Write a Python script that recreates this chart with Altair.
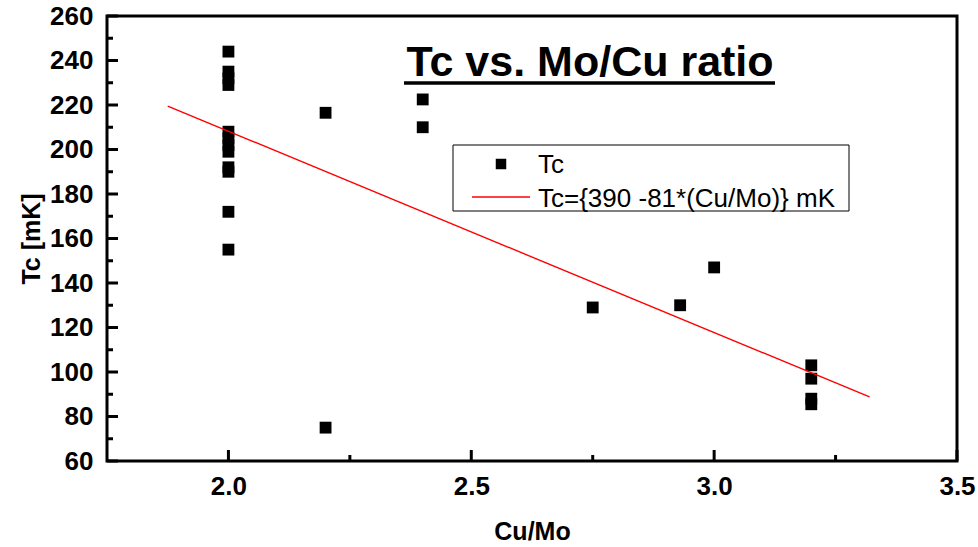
import altair as alt
import pandas as pd

# measured points
cu_mo = [2.0]*12 + [2.2, 2.2, 2.4, 2.4, 2.75, 2.93, 3.0, 3.2, 3.2, 3.2, 3.2]
tc = [244, 235, 232, 229, 208, 205, 202, 199, 192, 190, 172, 155,
      216.5, 75, 222.5, 210, 129, 130, 147, 103, 97, 88, 85.5]

# fitted line end points
fit_x = [1.875, 3.32]
fit_y = [219.5, 88.8]

y_ticks_major = list(range(60, 261, 20))
y_ticks_minor = list(range(70, 251, 20))
x_ticks_major = [2.0, 2.5, 3.0, 3.5]
x_ticks_minor = [2.25, 2.75, 3.25]

title_text = "Tc vs. Mo/Cu ratio"
legend_labels = ["Tc", "Tc={390 -81*(Cu/Mo)} mK"]

FONT = "Liberation Sans"
W, H = 850, 445

xs = alt.Scale(domain=[1.75, 3.5], nice=False, zero=False)
ys = alt.Scale(domain=[60, 260], nice=False, zero=False)

ax_x = alt.Axis(
    title="Cu/Mo", values=x_ticks_major, format=".1f", grid=False,
    domain=False, ticks=False, labelPadding=12, labelFontSize=26,
    labelFontWeight="bold", labelFont=FONT, labelColor="black",
    titleFont=FONT, titleFontSize=25, titleFontWeight="bold",
    titleColor="black", titlePadding=20, labelFlush=False)
ax_y = alt.Axis(
    title="Tc [mK]", values=y_ticks_major, grid=False, domain=False,
    ticks=False, labelPadding=14, labelFontSize=26, labelFontWeight="bold",
    labelFont=FONT, labelColor="black", titleFont=FONT, titleFontSize=25,
    titleFontWeight="bold", titleColor="black", titlePadding=5,
    labelFlush=False)

pts = pd.DataFrame({"x": cu_mo, "y": tc})
fit = pd.DataFrame({"x": fit_x, "y": fit_y})

points = alt.Chart(pts).mark_point(shape="square", filled=True, size=140,
                                   color="black", opacity=1).encode(
    x=alt.X("x:Q", scale=xs, axis=ax_x),
    y=alt.Y("y:Q", scale=ys, axis=ax_y),
)

line = alt.Chart(fit).mark_line(color="#ff0000", strokeWidth=1.4).encode(
    x=alt.X("x:Q", scale=xs, axis=ax_x),
    y=alt.Y("y:Q", scale=ys, axis=ax_y),
)

def yticks(vals, length):
    return alt.Chart(pd.DataFrame({"y": vals})).mark_rule(
        color="black", strokeWidth=3).encode(
        y=alt.Y("y:Q", scale=ys, axis=ax_y),
        x=alt.value(0), x2=alt.value(length))

def xticks(vals, length):
    return alt.Chart(pd.DataFrame({"x": vals})).mark_rule(
        color="black", strokeWidth=3).encode(
        x=alt.X("x:Q", scale=xs, axis=ax_x),
        y=alt.value(H), y2=alt.value(H - length))

one = pd.DataFrame({"k": [0]})

title = alt.Chart(one).mark_text(font=FONT, fontSize=43, fontWeight="bold",
                                 align="center", baseline="alphabetic",
                                 color="black").encode(
    x=alt.value(483), y=alt.value(60), text=alt.value(title_text))
underline = alt.Chart(one).mark_rule(color="black", strokeWidth=3.5).encode(
    x=alt.value(297), x2=alt.value(668), y=alt.value(67))

leg_box = alt.Chart(one).mark_rect(fill="white", stroke="black",
                                   strokeWidth=1).encode(
    x=alt.value(346), x2=alt.value(742), y=alt.value(129), y2=alt.value(195))
leg_sq = alt.Chart(one).mark_point(shape="square", filled=True, size=110,
                                   color="black", opacity=1).encode(
    x=alt.value(394), y=alt.value(148))
leg_line = alt.Chart(one).mark_rule(color="#ff0000", strokeWidth=1.4).encode(
    x=alt.value(365), x2=alt.value(423), y=alt.value(181))
leg_t1 = alt.Chart(one).mark_text(font=FONT, fontSize=26, align="left",
                                  baseline="alphabetic", color="black").encode(
    x=alt.value(431), y=alt.value(157), text=alt.value(legend_labels[0]))
leg_t2 = alt.Chart(one).mark_text(font=FONT, fontSize=26, align="left",
                                  baseline="alphabetic", color="black").encode(
    x=alt.value(431), y=alt.value(191), text=alt.value(legend_labels[1]))

chart = alt.layer(
    points, line,
    yticks(y_ticks_major, 11), yticks(y_ticks_minor, 6),
    xticks(x_ticks_major, 11), xticks(x_ticks_minor, 6),
    title, underline, leg_box, leg_sq, leg_line, leg_t1, leg_t2,
).properties(
    width=W, height=H,
    padding={"left": 107, "top": 16, "right": 21, "bottom": 86},
    autosize=alt.AutoSizeParams(type="none"),
    background="white",
).configure_view(stroke="black", strokeWidth=3)

chart.save("out.html", embed_options={"renderer": "svg", "actions": False})
